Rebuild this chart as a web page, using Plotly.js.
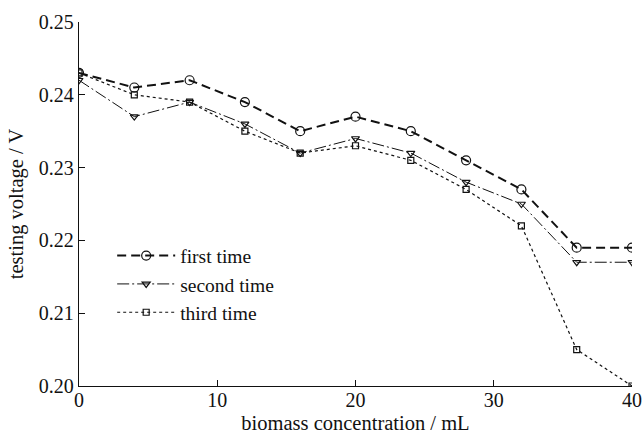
<!DOCTYPE html>
<html><head><meta charset="utf-8">
<script src="https://cdn.plot.ly/plotly-3.0.1.min.js"></script>
<style>body{margin:0;background:#fff}#c{width:644px;height:434px}</style>
</head><body><div id="c"></div>
<script>
const xValues = [0, 4, 8, 12, 16, 20, 24, 28, 32, 36, 40];
const firstTime = [0.243, 0.241, 0.242, 0.239, 0.235, 0.237, 0.235, 0.231, 0.227, 0.219, 0.219];
const secondTime = [0.242, 0.237, 0.239, 0.236, 0.232, 0.234, 0.232, 0.228, 0.225, 0.217, 0.217];
const thirdTime = [0.243, 0.240, 0.239, 0.235, 0.232, 0.233, 0.231, 0.227, 0.222, 0.205, 0.200];
const seriesNames = ['first time', 'second time', 'third time'];
const xTicks = [0, 10, 20, 30, 40];
const yTicks = [0.20, 0.21, 0.22, 0.23, 0.24, 0.25];
const yTickLabels = ['0.20', '0.21', '0.22', '0.23', '0.24', '0.25'];

const font = 'Liberation Serif';
const traces = [
  {x: xValues, y: firstTime, name: seriesNames[0], mode: 'lines+markers',
   line: {color: '#111', width: 2, dash: '9px,5px'},
   marker: {symbol: 'circle-open', size: 9, color: '#111', line: {width: 1.2}}},
  {x: xValues, y: secondTime, name: seriesNames[1], mode: 'lines+markers',
   line: {color: '#111', width: 1, dash: '12px,3px,2px,3px'},
   marker: {symbol: 'triangle-down-open', size: 7, color: '#111', line: {width: 1.2}}},
  {x: xValues, y: thirdTime, name: seriesNames[2], mode: 'lines+markers',
   line: {color: '#111', width: 1.2, dash: 'dot'},
   marker: {symbol: 'square-open', size: 6, color: '#111', line: {width: 1.2}}}
];
const layout = {
  width: 644, height: 434,
  margin: {l: 79, r: 12, t: 22, b: 48},
  paper_bgcolor: '#fff', plot_bgcolor: '#fff',
  font: {family: font, size: 20, color: '#111'},
  showlegend: true,
  legend: {x: 0.06, y: 0.411, xanchor: 'left', yanchor: 'top', bgcolor: 'rgba(0,0,0,0)',
           itemwidth: 58, font: {family: font, size: 19.5, color: '#111'}, tracegroupgap: 0},
  xaxis: {range: [0, 40], tickvals: xTicks, ticks: 'inside', ticklen: 6, tickcolor: '#111',
          showline: true, linecolor: '#111', linewidth: 1.2, showgrid: false, zeroline: false,
          tickfont: {family: font, size: 20}, ticklabelstandoff: -4, fixedrange: true,
          title: {text: 'biomass concentration / mL', font: {family: font, size: 20.5}, standoff: 6}},
  yaxis: {range: [0.20, 0.25], tickvals: yTicks, ticktext: yTickLabels, ticks: 'inside', ticklen: 6,
          tickcolor: '#111', showline: true, linecolor: '#111', linewidth: 1.2, showgrid: false,
          zeroline: false, tickfont: {family: font, size: 20},
          title: {text: 'testing voltage / V', font: {family: font, size: 20.5}, standoff: 9}}
};
Plotly.newPlot('c', traces, layout, {displayModeBar: false, staticPlot: true});
</script></body></html>
